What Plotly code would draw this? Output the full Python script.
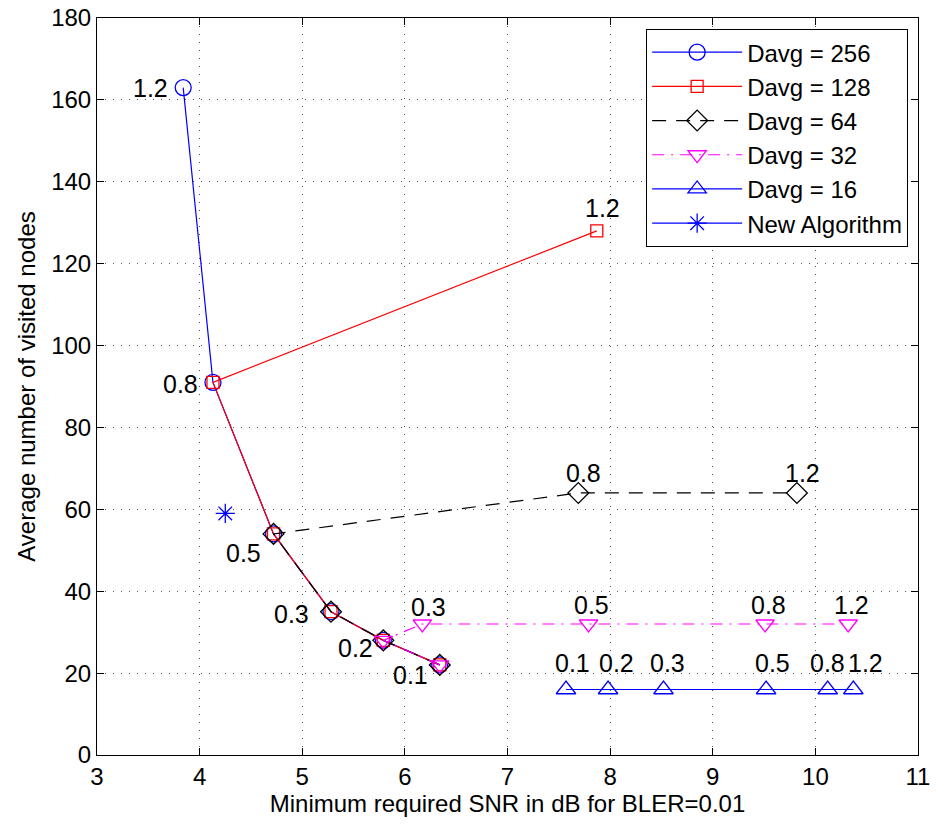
import plotly.graph_objects as go

# Parameter labels (per point)
params = ["0.1", "0.2", "0.3", "0.5", "0.8", "1.2"]

# Davg = 256
x256 = [6.34, 5.79, 5.28, 4.72, 4.13, 3.84]
y256 = [22, 28, 35, 54, 91, 163]
# Davg = 128
x128 = [6.34, 5.79, 5.28, 4.72, 4.13, 7.87]
y128 = [22, 28, 35, 54, 91, 128]
# Davg = 64
x64 = [6.34, 5.79, 5.28, 4.72, 7.69, 9.82]
y64 = [22, 28, 35, 54, 64, 64]
# Davg = 32
x32 = [6.34, 5.79, 6.17, 7.79, 9.51, 10.32]
y32 = [22, 28, 32, 32, 32, 32]
# Davg = 16
x16 = [7.57, 7.98, 8.52, 9.52, 10.12, 10.37]
y16 = [16, 16, 16, 16, 16, 16]
# New algorithm
xnew = [4.25]
ynew = [59]

# Text labels: (text, x, y)
label_text = ["1.2", "1.2", "0.8", "0.5", "0.3", "0.2", "0.1", "0.3", "0.8", "1.2",
              "0.5", "0.8", "1.2", "0.1", "0.2", "0.3", "0.5", "0.8", "1.2"]
label_x = [3.52, 7.93, 3.81, 4.43, 4.90, 5.52, 6.05, 6.23, 7.74, 9.87,
           7.82, 9.54, 10.35, 7.63, 8.06, 8.56, 9.58, 10.12, 10.49]
label_y = [163, 133.6, 90.6, 49.3, 34.4, 26.1, 19.5, 36.2, 68.9, 68.9,
           36.6, 36.6, 36.6, 22.5, 22.5, 22.5, 22.5, 22.5, 22.5]

x_ticks = [3, 4, 5, 6, 7, 8, 9, 10, 11]
y_ticks = [0, 20, 40, 60, 80, 100, 120, 140, 160, 180]

FONT = "Liberation Sans, Arial, Helvetica, sans-serif"

fig = go.Figure()
fig.add_trace(go.Scatter(x=x256, y=y256, mode="lines+markers", name="Davg = 256",
                         line=dict(color="#0000ff", width=1.2),
                         marker=dict(symbol="circle-open", size=16, color="#0000ff", line=dict(width=1.3))))
fig.add_trace(go.Scatter(x=x128, y=y128, mode="lines+markers", name="Davg = 128",
                         line=dict(color="#ff0000", width=1.2),
                         marker=dict(symbol="square-open", size=12, color="#ff0000", line=dict(width=1.3))))
fig.add_trace(go.Scatter(x=x64, y=y64, mode="lines+markers", name="Davg = 64",
                         line=dict(color="#000000", width=1.2, dash="14px,10px"),
                         marker=dict(symbol="diamond-open", size=16, color="#000000", line=dict(width=1.3))))
fig.add_trace(go.Scatter(x=x32, y=y32, mode="lines+markers", name="Davg = 32",
                         line=dict(color="#ff00ff", width=1.2, dash="12px,7px,2px,7px"),
                         marker=dict(symbol="triangle-down-open", size=16, color="#ff00ff", line=dict(width=1.3))))
fig.add_trace(go.Scatter(x=x16, y=y16, mode="lines+markers", name="Davg = 16",
                         line=dict(color="#0000ff", width=1.2),
                         marker=dict(symbol="triangle-up-open", size=17, color="#0000ff", line=dict(width=1.3))))
fig.add_trace(go.Scatter(x=xnew, y=ynew, mode="lines+markers", name="New Algorithm",
                         line=dict(color="#0000ff", width=1.2),
                         marker=dict(symbol="asterisk-open", size=16, color="#0000ff", line=dict(width=1.3, color="#0000ff"))))

for t, lx, ly in zip(label_text, label_x, label_y):
    fig.add_annotation(x=lx, y=ly, text=t, showarrow=False,
                       font=dict(family=FONT, size=25, color="black"))

axis_common = dict(
    showline=True, linecolor="black", linewidth=1, mirror="ticks",
    ticks="inside", ticklen=7, tickcolor="black",
    showgrid=True, gridcolor="#555555", gridwidth=1, griddash="1px,7px",
    zeroline=False, tickfont=dict(family=FONT, size=24, color="black"),
    automargin=False,
)

fig.update_xaxes(range=[3, 11], tickvals=x_ticks, ticktext=[str(v) for v in x_ticks],
                 title=dict(text="Minimum required SNR in dB for BLER=0.01",
                            font=dict(family=FONT, size=24, color="black"), standoff=4),
                 **axis_common)
fig.update_yaxes(range=[0, 180], tickvals=y_ticks, ticktext=[str(v) for v in y_ticks],
                 title=dict(text="Average number of visited nodes",
                            font=dict(family=FONT, size=24, color="black"), standoff=8),
                 **axis_common)

fig.update_layout(
    width=937, height=827,
    margin=dict(l=97, r=19, t=18, b=72),
    paper_bgcolor="white", plot_bgcolor="white",
    font=dict(family=FONT, size=24, color="black"),
    showlegend=True,
    legend=dict(x=0.988, y=0.985, xanchor="right", yanchor="top",
                bgcolor="white", bordercolor="black", borderwidth=1,
                font=dict(family=FONT, size=24, color="black"),
                itemwidth=90, tracegroupgap=0),
)

fig.write_html("out.html")
